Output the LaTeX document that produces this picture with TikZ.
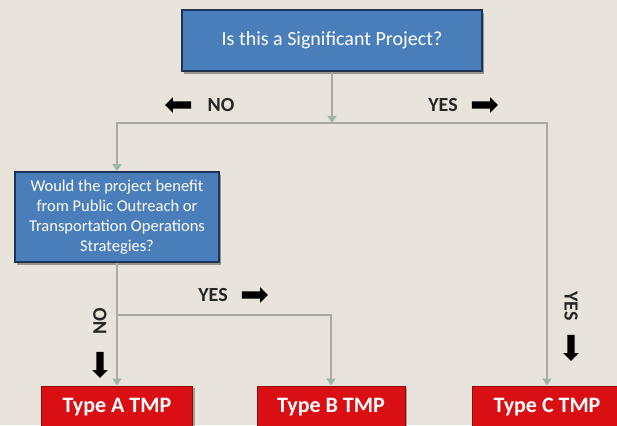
\documentclass[tikz,border=0pt]{standalone}
\usepackage{fontspec}
\setmainfont{Carlito}
\usetikzlibrary{arrows.meta,shapes.arrows,shadows}

\definecolor{bgbeige}{HTML}{E8E4DB}
\definecolor{qblue}{HTML}{4A7EBB}
\definecolor{qborder}{HTML}{1C3557}
\definecolor{tmpred}{HTML}{DA0F14}
\definecolor{tmpborder}{HTML}{900A0A}
\definecolor{linkgrey}{HTML}{ABA9A0}
\definecolor{tipgreen}{HTML}{9DB6A8}

\begin{document}
\begin{tikzpicture}[x=1pt,y=1pt,
    question/.style={draw=qborder,line width=1.6pt,fill=qblue,text=white,align=center,inner sep=0pt,
      drop shadow={shadow xshift=2pt,shadow yshift=-3pt,fill=black,opacity=0.35}},
    tmpbox/.style={draw=tmpborder,line width=1pt,fill=tmpred,text=white,inner sep=0pt,
      minimum height=42pt,font=\fontsize{22}{22}\selectfont\bfseries,
      drop shadow={shadow xshift=2pt,shadow yshift=-2pt,fill=black,opacity=0.3}},
    link/.style={draw=linkgrey,line width=1.3pt},
    linkarrow/.style={link,-{Triangle[length=7pt,width=9pt,color=tipgreen]}},
    choice/.style={text=black!85,inner sep=0pt,font=\fontsize{20}{20}\selectfont\bfseries},
    blockarrow/.style={single arrow,fill=black,inner sep=3.5pt,minimum height=26pt,
      single arrow head extend=4pt}]
    \path[use as bounding box,fill=bgbeige] (0,0) rectangle (617,425);
    % boxes
    \node[question,minimum width=300pt,minimum height=61pt,font=\fontsize{20}{22}\selectfont] (sig) at (332,384.5) {Is this a Significant Project?};
    \node[question,minimum width=204pt,minimum height=90pt,font=\fontsize{16.5}{20}\selectfont] (outreach) at (117,208) {Would the project benefit\\from Public Outreach or\\Transportation Operations\\Strategies?};
    \node[tmpbox,minimum width=151pt] (typeA) at (117,18) {Type A TMP};
    \node[tmpbox,minimum width=148pt] (typeB) at (331,18) {Type B TMP};
    \node[tmpbox,minimum width=150pt] (typeC) at (547,18) {Type C TMP};
    % connectors
    \coordinate (split) at (332,302);
    \coordinate (branch) at (117,110);
    \draw[linkarrow] (sig) -- (split);
    \draw[linkarrow] (split) -| (outreach);
    \draw[linkarrow] (split) -| (typeC);
    \draw[linkarrow] (outreach) -- (typeA);
    \draw[linkarrow] (branch) -| (typeB);
    % answers
    \node[choice] (noTop) at (221,320) {NO};
    \node[blockarrow,shape border rotate=180] (noTopArrow) at (180,320) {};
    \node[choice] (yesTop) at (443,320) {YES};
    \node[blockarrow] (yesTopArrow) at (483,320) {};
    \node[choice] (yesMid) at (213,130) {YES};
    \node[blockarrow] (yesMidArrow) at (253,130) {};
    \node[choice,rotate=90] (noLow) at (100,104) {NO};
    \node[blockarrow,shape border rotate=270] (noLowArrow) at (100,62) {};
    \node[choice,rotate=-90] (yesRight) at (571,119) {YES};
    \node[blockarrow,shape border rotate=270] (yesRightArrow) at (571,79) {};
\end{tikzpicture}
\end{document}
